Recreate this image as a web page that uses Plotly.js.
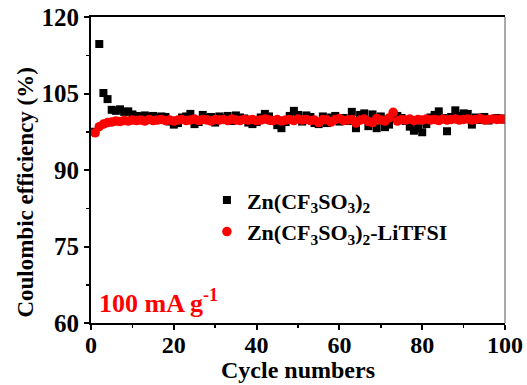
<!DOCTYPE html>
<html>
<head>
<meta charset="utf-8">
<script src="https://cdn.plot.ly/plotly-3.0.1.min.js"></script>
<style>html,body{margin:0;padding:0;background:#fff;}#chart{width:527px;height:385px;}</style>
</head>
<body>
<div id="chart"></div>
<script>
const cycles = Array.from({length: 100}, (_, i) => i + 1);
const ceZn = [
  97.5, 114.7, 105.1, 103.9, 101.8, 101.6, 101.9, 101.4, 101.5, 100.9,
  100.6, 100.5, 100.7, 100.4, 100.6, 100.3, 100.5, 100.4, 99.5, 98.9,
  99.2, 100.3, 100.5, 101.0, 99.0, 99.4, 100.8, 100.2, 100.4, 99.3,
  100.5, 100.2, 100.6, 99.6, 100.7, 100.3, 100.1, 99.3, 99.0, 99.4,
  100.3, 101.0, 100.5, 99.6, 98.8, 98.2, 99.4, 100.6, 101.6, 100.8,
  99.5, 100.7, 100.4, 99.2, 99.0, 100.5, 99.2, 100.3, 100.6, 99.5,
  100.2, 99.6, 101.4, 98.2, 100.8, 101.1, 98.6, 100.9, 98.2, 100.5,
  98.4, 98.9, 100.4, 100.6, 100.2, 99.6, 98.5, 97.7, 98.2, 97.4,
  99.0, 100.3, 100.8, 101.5, 100.2, 97.6, 100.4, 101.7, 100.6, 101.1,
  101.0, 98.9, 100.3, 99.8, 100.4, 99.7, 100.0, 100.2, 99.9, 100.1
];
const ceZnLi = [
  97.3, 98.5, 99.0, 99.3, 99.4, 99.6, 99.5, 99.7, 99.6, 99.8,
  99.7, 99.8, 99.6, 99.9, 99.7, 99.8, 99.9, 99.7, 99.8, 99.6,
  99.8, 99.9, 99.7, 99.8, 100.0, 99.7, 99.9, 99.8, 99.6, 99.9,
  99.8, 99.9, 99.7, 100.0, 99.8, 99.7, 99.9, 99.8, 99.9, 99.7,
  99.8, 100.0, 99.8, 99.7, 99.9, 99.6, 99.8, 99.9, 99.7, 100.0,
  99.8, 99.9, 99.7, 99.8, 99.3, 99.9, 99.8, 99.4, 99.9, 100.1,
  99.7, 99.8, 99.9, 99.2, 99.8, 100.0, 99.5, 99.3, 100.1, 99.8,
  99.6, 100.2, 101.3, 99.6, 99.9, 99.8, 100.0, 99.7, 99.9, 99.8,
  100.0, 99.8, 99.9, 99.7, 100.0, 99.8, 99.9, 100.0, 99.8, 99.9,
  100.0, 99.8, 99.9, 100.1, 99.8, 99.9, 100.0, 99.9, 100.0, 99.9
];
const seriesNames = ["Zn(CF<sub>3</sub>SO<sub>3</sub>)<sub>2</sub>", "Zn(CF<sub>3</sub>SO<sub>3</sub>)<sub>2</sub>-LiTFSI"];
const xTicks = [0, 20, 40, 60, 80, 100];
const yTicks = [60, 75, 90, 105, 120];

const font = "Liberation Serif, Times New Roman, serif";
const traces = [
  {x: cycles, y: ceZn, name: seriesNames[0], type: "scatter", mode: "markers",
   marker: {symbol: "square", size: 8, color: "#000"}},
  {x: cycles, y: ceZnLi, name: seriesNames[1], type: "scatter", mode: "markers",
   marker: {symbol: "circle", size: 9.5, color: "#ff0000"}}
];
const layout = {
  width: 527, height: 385,
  margin: {l: 91, r: 22, t: 17, b: 62},
  paper_bgcolor: "#fff", plot_bgcolor: "#fff",
  font: {family: font, color: "#000"},
  showlegend: true,
  legend: {x: 0.28, y: 0.47, xanchor: "left", yanchor: "top", bgcolor: "rgba(0,0,0,0)",
           font: {family: font, size: 22, color: "#000", weight: "bold"}, tracegroupgap: 0},
  xaxis: {range: [0, 100], tickvals: xTicks, ticktext: xTicks.map(String),
          showgrid: false, zeroline: false, showline: true, linewidth: 2, linecolor: "#000",
          mirror: true, ticks: "outside", ticklen: 5, tickwidth: 2, tickcolor: "#000",
          minor: {dtick: 10, tick0: 0, ticks: "outside", ticklen: 3, tickwidth: 1.5, tickcolor: "#000"},
          tickfont: {family: font, size: 24, weight: "bold"}, ticklabelstandoff: -6},
  yaxis: {range: [60, 120], tickvals: yTicks, ticktext: yTicks.map(String),
          showgrid: false, zeroline: false, showline: true, linewidth: 2, linecolor: "#000",
          mirror: false, ticks: "outside", ticklen: 5, tickwidth: 2, tickcolor: "#000",
          minor: {dtick: 7.5, tick0: 60, ticks: "outside", ticklen: 3, tickwidth: 1.5, tickcolor: "#000"},
          tickfont: {family: font, size: 25, weight: "bold"}},
  shapes: [{type: "line", xref: "paper", yref: "paper", x0: 1, x1: 1, y0: 0, y1: 1,
            line: {color: "#555", width: 1}}],
  annotations: [
    {text: "100 mA g<sup>-1</sup>", xref: "paper", yref: "paper", x: 0.015, y: 0.01,
     xanchor: "left", yanchor: "bottom", showarrow: false,
     font: {family: font, size: 26, color: "#ff0000", weight: "bold"}},
    {text: "Coulombic efficiency (%)", xref: "paper", yref: "paper", x: -0.158, y: 0.425,
     xanchor: "center", yanchor: "middle", textangle: -90, showarrow: false,
     font: {family: font, size: 23, color: "#000", weight: "bold"}},
    {text: "Cycle numbers", xref: "paper", yref: "paper", x: 0.5, y: -0.152,
     xanchor: "center", yanchor: "middle", showarrow: false,
     font: {family: font, size: 24, color: "#000", weight: "bold"}}
  ]
};
Plotly.newPlot("chart", traces, layout, {displayModeBar: false, staticPlot: true});
</script>
</body>
</html>
